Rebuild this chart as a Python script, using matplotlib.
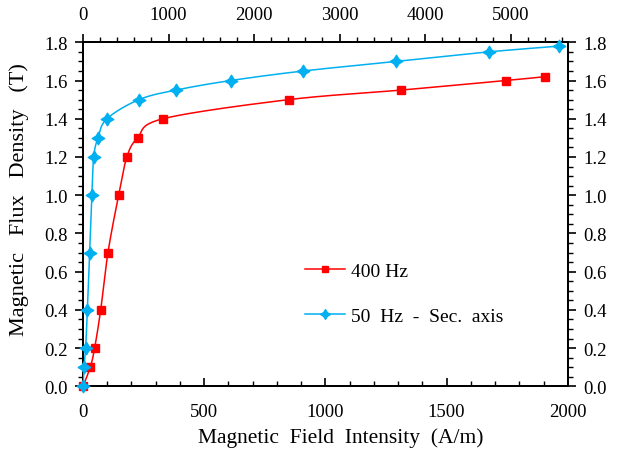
import numpy as np
import matplotlib.pyplot as plt
from matplotlib.lines import Line2D
from matplotlib.path import Path
from matplotlib.ticker import MultipleLocator, FormatStrFormatter

# 400 Hz curve (bottom axis)
h_400 = [0, 30, 48, 73, 103, 147, 181, 225, 330, 848, 1311, 1744, 1904]
b_400 = [0, 0.1, 0.2, 0.4, 0.7, 1.0, 1.2, 1.3, 1.4, 1.5, 1.55, 1.6, 1.62]

# 50 Hz curve (secondary, top axis)
h_50 = [0, 12, 31, 51, 78, 105, 125, 175, 280, 654, 1085, 1727, 2576, 3661, 4746, 5563]
b_50 = [0, 0.1, 0.2, 0.4, 0.7, 1.0, 1.2, 1.3, 1.4, 1.5, 1.55, 1.6, 1.65, 1.7, 1.75, 1.78]

XMAX, XMAX_SEC, YMAX = 2000, 5670, 1.8

RED = '#FF0000'
BLUE = '#00B0F0'

plt.rcParams['font.family'] = ['Liberation Serif', 'DejaVu Serif']
plt.rcParams['font.size'] = 13


def smooth(x, y, xr, yr, n=24):
    # bezier smoothing like a spreadsheet "smoothed line", done in axis-fraction space
    P = np.column_stack([np.asarray(x, float) / xr, np.asarray(y, float) / yr])
    out = [P[0]]
    t = np.linspace(0, 1, n)[1:, None]
    for i in range(len(P) - 1):
        p0 = P[i - 1] if i > 0 else P[i]
        p1, p2 = P[i], P[i + 1]
        p3 = P[i + 2] if i + 2 < len(P) else P[i + 1]
        c1 = p1 + (p2 - p0) / 6
        c2 = p2 - (p3 - p1) / 6
        seg = ((1 - t) ** 3) * p1 + 3 * ((1 - t) ** 2) * t * c1 + 3 * (1 - t) * t ** 2 * c2 + t ** 3 * p2
        out.extend(seg)
    out = np.array(out)
    return out[:, 0] * xr, out[:, 1] * yr


# four-pointed star marker
k = 0.38
star = Path([(0, 1), (k, k), (1, 0), (k, -k), (0, -1), (-k, -k), (-1, 0), (-k, k), (0, 1)],
            [Path.MOVETO] + [Path.LINETO] * 7 + [Path.CLOSEPOLY])

fig = plt.figure(figsize=(6.18, 4.56), dpi=100)
ax = fig.add_axes([0.1343, 0.1507, 0.7845, 0.7543])
ax2 = ax.twiny()

sx, sy = smooth(h_400, b_400, XMAX, YMAX)
ax.plot(sx, sy, color=RED, lw=1.1, zorder=3)
ax.plot(h_400, b_400, ls='none', marker='s', ms=6, color=RED, zorder=4, clip_on=False)

tx, ty = smooth(h_50, b_50, XMAX_SEC, YMAX)
ax2.plot(tx, ty, color=BLUE, lw=1.1, zorder=3)
ax2.plot(h_50, b_50, ls='none', marker=star, ms=9, color=BLUE, zorder=4, clip_on=False)

ax.set_xlim(0, XMAX)
ax.set_ylim(0, YMAX)
ax2.set_xlim(0, XMAX_SEC)

ax.xaxis.set_major_locator(MultipleLocator(500))
ax.xaxis.set_minor_locator(MultipleLocator(100))
ax.yaxis.set_major_locator(MultipleLocator(0.2))
ax.yaxis.set_minor_locator(MultipleLocator(0.05))
ax.yaxis.set_major_formatter(FormatStrFormatter('%.1f'))
ax2.xaxis.set_major_locator(MultipleLocator(1000))
ax2.xaxis.set_minor_locator(MultipleLocator(200))

ax.tick_params(axis='x', which='both', direction='in', top=False, pad=12)
ax.tick_params(axis='y', which='both', direction='out', left=True, right=True,
               labelleft=True, labelright=True, pad=5)
ax2.tick_params(axis='x', which='both', direction='out', pad=8)
for a in (ax, ax2):
    a.tick_params(which='major', length=6, width=1.2, colors='black', labelsize=13.5)
    a.tick_params(which='minor', length=3.5, width=1.0)
    for s in a.spines.values():
        s.set_linewidth(1.4)

ax.set_xlabel('Magnetic  Field  Intensity  (A/m)', fontsize=15.5)
ax.set_ylabel('Magnetic   Flux   Density   (T)', fontsize=16)
ax.xaxis.set_label_coords(0.531, -0.118)
ax.yaxis.set_label_coords(-0.112, 0.547)

handles = [
    Line2D([], [], color=RED, lw=1.1, marker='s', ms=5),
    Line2D([], [], color=BLUE, lw=1.1, marker=star, ms=7),
]
ax.legend(handles, ['400 Hz', '50  Hz  -  Sec.  axis'], loc='upper left',
          bbox_to_anchor=(0.457, 0.36), frameon=False, fontsize=14,
          handlelength=2.1, handletextpad=0.3, labelspacing=1.42,
          borderpad=0, borderaxespad=0)

fig.savefig('out.png', dpi=100)
